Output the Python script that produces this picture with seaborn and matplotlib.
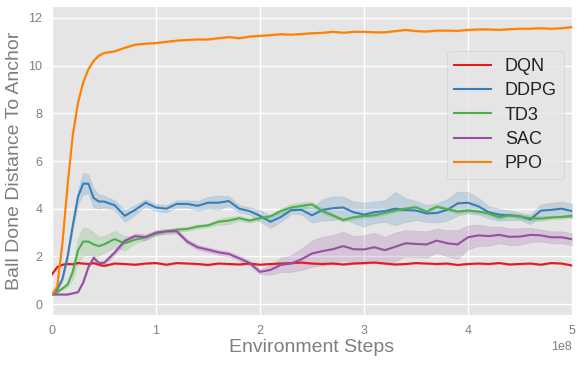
import numpy as np
import pandas as pd
import matplotlib
matplotlib.use("Agg")
import matplotlib.pyplot as plt
import seaborn as sns

# x grid in units of 1e8 environment steps
steps = [0, 0.05, 0.1, 0.15, 0.2, 0.25, 0.3, 0.35, 0.4, 0.45, 0.5,
         0.6, 0.7, 0.8, 0.9, 1.0, 1.1, 1.2, 1.3, 1.4, 1.5, 1.6, 1.7, 1.8, 1.9,
         2.0, 2.1, 2.2, 2.3, 2.4, 2.5, 2.6, 2.7, 2.8, 2.9,
         3.0, 3.1, 3.2, 3.3, 3.4, 3.5, 3.6, 3.7, 3.8, 3.9,
         4.0, 4.1, 4.2, 4.3, 4.4, 4.5, 4.6, 4.7, 4.8, 4.9, 5.0]

algorithms = ["DQN", "DDPG", "TD3", "SAC", "PPO"]
colors = ["#e41a1c", "#377eb8", "#4daf4a", "#984ea3", "#ff7f00"]

dqn_mean = [1.25, 1.55, 1.65, 1.68, 1.67, 1.72, 1.70, 1.68, 1.72, 1.65, 1.60,
            1.70, 1.68, 1.65, 1.70, 1.72, 1.65, 1.72, 1.70, 1.68, 1.64, 1.70, 1.68, 1.66, 1.70,
            1.65, 1.68, 1.70, 1.72, 1.74, 1.70, 1.68, 1.70, 1.66, 1.70,
            1.72, 1.74, 1.70, 1.66, 1.68, 1.72, 1.70, 1.68, 1.70, 1.64,
            1.68, 1.70, 1.68, 1.72, 1.66, 1.68, 1.70, 1.65, 1.72, 1.70, 1.62]
dqn_band = [0.03] * 56

ddpg_mean = [0.40, 0.62, 1.05, 2.00, 3.30, 4.50, 5.05, 5.05, 4.45, 4.30, 4.30,
             4.15, 3.70, 3.95, 4.25, 4.05, 4.00, 4.20, 4.20, 4.12, 4.25, 4.25, 4.32, 4.00, 3.90,
             3.70, 3.45, 3.65, 3.94, 3.95, 3.72, 3.95, 4.02, 4.05, 3.85,
             3.75, 3.85, 3.90, 4.00, 3.94, 3.92, 3.80, 3.82, 3.95, 4.22,
             4.25, 4.10, 3.85, 3.75, 3.72, 3.68, 3.55, 3.92, 3.95, 4.00, 3.90]
ddpg_band = [0.02, 0.05, 0.10, 0.15, 0.20, 0.30, 0.45, 0.40, 0.40, 0.30, 0.25,
             0.20, 0.25, 0.20, 0.15, 0.15, 0.15, 0.15, 0.15, 0.20, 0.25, 0.30, 0.20, 0.15, 0.15,
             0.25, 0.25, 0.20, 0.15, 0.20, 0.30, 0.45, 0.50, 0.45, 0.45,
             0.50, 0.45, 0.45, 0.70, 0.50, 0.40, 0.35, 0.40, 0.45, 0.50,
             0.45, 0.35, 0.25, 0.25, 0.20, 0.15, 0.20, 0.25, 0.30, 0.30, 0.30]

td3_mean = [0.40, 0.50, 0.65, 0.82, 1.35, 2.25, 2.62, 2.62, 2.50, 2.43, 2.50,
            2.72, 2.55, 2.70, 2.80, 2.95, 3.05, 3.12, 3.15, 3.25, 3.30, 3.45, 3.50, 3.60, 3.50,
            3.60, 3.68, 3.90, 4.05, 4.12, 4.18, 3.90, 3.72, 3.52, 3.64,
            3.69, 3.72, 3.82, 3.92, 4.00, 4.06, 3.88, 4.08, 3.98, 3.88,
            3.92, 3.88, 3.80, 3.64, 3.73, 3.66, 3.60, 3.58, 3.63, 3.65, 3.70]
td3_band = [0.02, 0.03, 0.05, 0.10, 0.30, 0.50, 0.60, 0.55, 0.50, 0.40, 0.35,
            0.35, 0.30, 0.15, 0.10, 0.08, 0.08, 0.08, 0.08, 0.08, 0.08, 0.12, 0.15, 0.10, 0.08,
            0.08, 0.08, 0.10, 0.15, 0.15, 0.12, 0.10, 0.07, 0.07, 0.07,
            0.07, 0.07, 0.07, 0.07, 0.07, 0.07, 0.07, 0.07, 0.07, 0.07,
            0.07, 0.07, 0.07, 0.08, 0.08, 0.10, 0.10, 0.10, 0.07, 0.07, 0.07]

sac_mean = [0.40, 0.40, 0.40, 0.40, 0.45, 0.50, 0.90, 1.55, 1.94, 1.72, 1.72,
            2.15, 2.65, 2.85, 2.80, 3.00, 3.05, 3.05, 2.62, 2.38, 2.28, 2.17, 2.10, 1.92, 1.72,
            1.35, 1.43, 1.64, 1.70, 1.88, 2.12, 2.22, 2.30, 2.43, 2.30,
            2.29, 2.38, 2.26, 2.40, 2.55, 2.52, 2.50, 2.66, 2.55, 2.50,
            2.80, 2.88, 2.85, 2.90, 2.82, 2.83, 2.90, 2.88, 2.80, 2.80, 2.72]
sac_band = [0.02, 0.02, 0.02, 0.02, 0.02, 0.02, 0.03, 0.05, 0.08, 0.10, 0.10,
            0.10, 0.10, 0.12, 0.12, 0.10, 0.10, 0.10, 0.10, 0.10, 0.10, 0.10, 0.10, 0.10, 0.10,
            0.10, 0.20, 0.30, 0.35, 0.45, 0.55, 0.60, 0.60, 0.60, 0.55,
            0.60, 0.60, 0.55, 0.60, 0.55, 0.55, 0.55, 0.50, 0.55, 0.60,
            0.50, 0.45, 0.40, 0.35, 0.35, 0.35, 0.30, 0.25, 0.25, 0.25, 0.25]

ppo_mean = [0.40, 0.73, 2.55, 5.00, 7.10, 8.45, 9.30, 9.85, 10.20, 10.42, 10.53,
            10.60, 10.75, 10.88, 10.92, 10.95, 11.00, 11.05, 11.08, 11.10, 11.10, 11.15, 11.20, 11.15, 11.22,
            11.25, 11.28, 11.32, 11.30, 11.33, 11.36, 11.38, 11.42, 11.38, 11.42,
            11.42, 11.40, 11.40, 11.45, 11.50, 11.45, 11.43, 11.47, 11.47, 11.46,
            11.50, 11.52, 11.52, 11.50, 11.53, 11.55, 11.55, 11.57, 11.55, 11.57, 11.62]
ppo_band = [0.03] * 56

means = [dqn_mean, ddpg_mean, td3_mean, sac_mean, ppo_mean]
bands = [dqn_band, ddpg_band, td3_band, sac_band, ppo_band]

rows = []
for alg, m, b in zip(algorithms, means, bands):
    for s, mv, bv in zip(steps, m, b):
        for k in (-1, 0, 1):
            rows.append({"step": s * 1e8, "value": mv + k * bv, "alg": alg})
df = pd.DataFrame(rows)

plt.style.use("ggplot")
plt.rcParams["font.family"] = ["Liberation Sans", "DejaVu Sans"]

fig = plt.figure(figsize=(5.81, 3.66), dpi=100)
ax = fig.add_axes([52 / 581, 1 - 315 / 366, 520 / 581, 308 / 366])
ax.set_facecolor("#e5e5e5")

sns.lineplot(data=df, x="step", y="value", hue="alg", hue_order=algorithms,
             palette=dict(zip(algorithms, colors)), errorbar=("pi", 100),
             estimator="mean", linewidth=1.5, ax=ax)

ax.set_xlim(0, 5e8)
ax.set_ylim(-0.46, 12.46)
ax.set_yticks([0, 2, 4, 6, 8, 10, 12])
ax.grid(True, color="white", linewidth=1.0)
for sp in ax.spines.values():
    sp.set_visible(False)
ax.tick_params(axis="both", length=0, labelsize=9, colors="#7f7f7f", pad=7)
ax.xaxis.get_offset_text().set_color("#7f7f7f")
ax.xaxis.get_offset_text().set_fontsize(9)
ax.set_xlabel("Environment Steps", fontsize=14, color="#7f7f7f", labelpad=2)
ax.set_ylabel("Ball Done Distance To Anchor", fontsize=14, color="#7f7f7f", labelpad=4)

leg = ax.legend(loc="upper right", bbox_to_anchor=(0.985, 0.857), borderaxespad=0,
                fontsize=13, frameon=True, facecolor="#e5e5e5", edgecolor="#cccccc",
                framealpha=0.8, handlelength=2.0, labelspacing=0.4)
for t in leg.get_texts():
    t.set_color("#222222")

fig.savefig("out.png", dpi=100)
